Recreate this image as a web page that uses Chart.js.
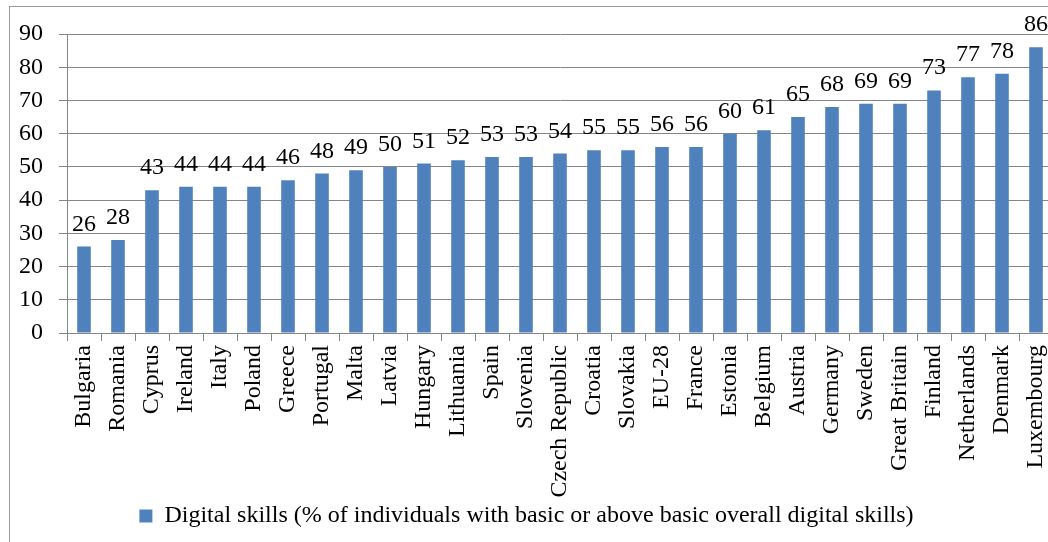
<!DOCTYPE html>
<html>
<head>
<meta charset="utf-8">
<script src="https://cdn.jsdelivr.net/npm/chart.js@4.4.0/dist/chart.umd.min.js"></script>
<style>
  html, body { margin: 0; padding: 0; background: #fff; overflow: hidden; }
  #wrap { position: relative; width: 1048px; height: 542px; overflow: hidden; }
  #frame { position: absolute; left: 9px; top: 6px; width: 1100px; height: 600px; border: 1px solid #999; }
  #box { position: absolute; left: 0; top: 0; width: 1056px; height: 542px; }
  #prueba { font-family: 'Liberation Serif'; position: absolute; left: -999px; }
</style>
</head>
<body>
<div id="wrap">
  <div id="frame"></div>
  <div id="box"><canvas id="myChart"></canvas></div>
</div>
<span id="prueba">Digital 0123456789</span>
<script>
// datos
const paises = ["Bulgaria", "Romania", "Cyprus", "Ireland", "Italy", "Poland", "Greece", "Portugal", "Malta", "Latvia",
  "Hungary", "Lithuania", "Spain", "Slovenia", "Czech Republic", "Croatia", "Slovakia", "EU-28", "France", "Estonia",
  "Belgium", "Austria", "Germany", "Sweden", "Great Britain", "Finland", "Netherlands", "Denmark", "Luxembourg"];
const valores = [26, 28, 43, 44, 44, 44, 46, 48, 49, 50, 51, 52, 53, 53, 54, 55, 55, 56, 56, 60,
  61, 65, 68, 69, 69, 73, 77, 78, 86];
const etiquetaSerie = "Digital skills (% of individuals with basic or above basic overall digital skills)";
const yTicks = [0, 10, 20, 30, 40, 50, 60, 70, 80, 90];

const fuente = "'Liberation Serif', 'Times New Roman', serif";
const gris = "#868686";

// plugin para escribir los valores sobre cada barra
const etiquetasBarras = {
  id: "etiquetasBarras",
  afterDatasetsDraw(chart) {
    const ctx = chart.ctx;
    const meta = chart.getDatasetMeta(0);
    ctx.save();
    ctx.font = "24px " + fuente;
    ctx.fillStyle = "#000";
    ctx.textAlign = "center";
    ctx.textBaseline = "alphabetic";
    meta.data.forEach((bar, i) => {
      ctx.fillText(String(valores[i]), bar.x, bar.y - 16);
    });
    ctx.restore();
  }
};

function renderGrafica() {
  let myChart = document.getElementById("myChart");
  new Chart(myChart, {
    type: "bar",
    data: {
      labels: paises,
      datasets: [{
        label: etiquetaSerie,
        data: valores,
        backgroundColor: "#4f81bd",
        borderWidth: 0,
        categoryPercentage: 1,
        barPercentage: 0.4
      }]
    },
    options: {
      responsive: true,
      maintainAspectRatio: false,
      animation: false,
      layout: { padding: { top: 34, right: 3, left: 0, bottom: 4 } },
      plugins: {
        legend: {
          position: "bottom",
          labels: {
            font: { family: fuente, size: 24 },
            color: "#000",
            boxWidth: 13,
            boxHeight: 13,
            padding: 6
          }
        },
        tooltip: { enabled: false }
      },
      scales: {
        x: {
          grid: { offset: true, drawOnChartArea: false, color: gris, tickLength: 8 },
          border: { color: gris },
          ticks: {
            font: { family: fuente, size: 24 },
            color: "#000",
            maxRotation: 90,
            minRotation: 90,
            autoSkip: false,
            padding: 4
          },
          afterFit(scale) {
            scale.height = 165;
            // sin margen extra a los lados por las etiquetas giradas
            scale.paddingLeft = 0;
            scale.paddingRight = 0;
          }
        },
        y: {
          min: 0,
          max: 90,
          afterBuildTicks(scale) { scale.ticks = yTicks.map(v => ({ value: v })); },
          grid: { color: gris, tickLength: 8 },
          border: { color: gris },
          ticks: {
            font: { family: fuente, size: 24 },
            color: "#000",
            padding: 16
          },
          afterFit(scale) { scale.width = 67; }
        }
      }
    },
    plugins: [etiquetasBarras]
  });
}

document.fonts.load("24px 'Liberation Serif'").then(renderGrafica, renderGrafica);
</script>
</body>
</html>
